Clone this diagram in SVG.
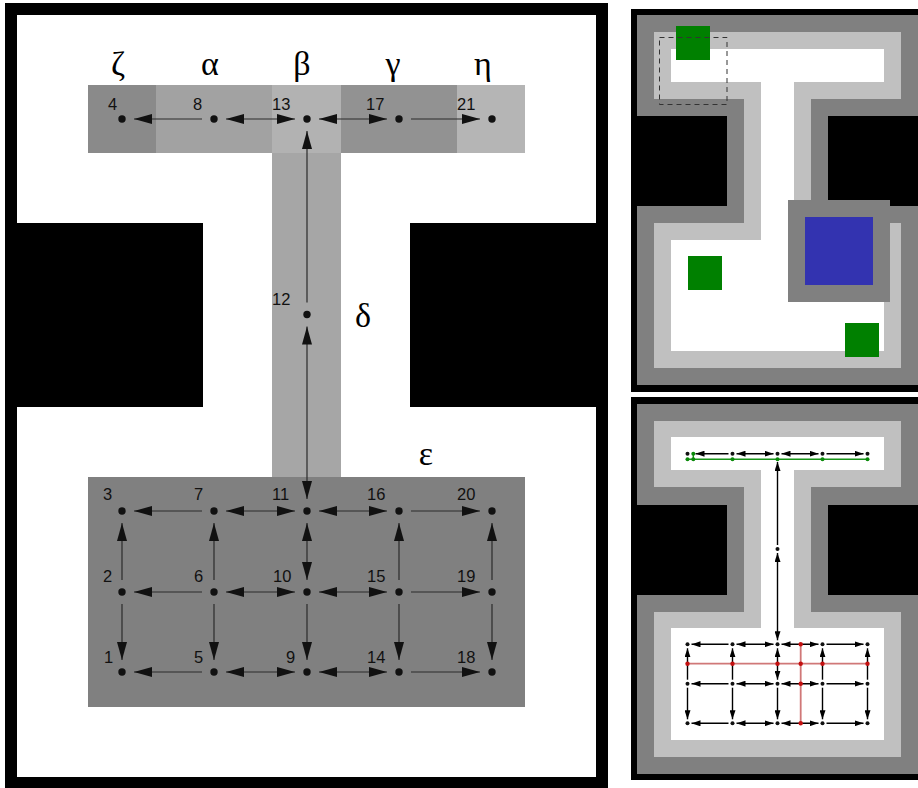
<svg xmlns="http://www.w3.org/2000/svg" width="918" height="788" viewBox="0 0 918 788">
<style>
.num{font-family:"Liberation Sans",Arial,sans-serif;font-size:16.5px;fill:#111}
.gr{font-family:"Liberation Serif","Times New Roman",serif;font-size:34px;fill:#000;text-anchor:middle}
.c line{stroke:#2a2a2a;stroke-width:1.2;fill:none}
.cs line{stroke:#000;stroke-width:1.4;fill:none}
.dot{fill:#111}
.sd{fill:#111}
.gd{fill:#0a8a0a}
.rd{fill:#c41010}
</style>
<defs>
<marker id="arr" markerUnits="userSpaceOnUse" markerWidth="18" markerHeight="10" refX="18" refY="5" orient="auto-start-reverse">
<path d="M0,0 L18,5 L0,10 z" fill="#111"/>
</marker>
<marker id="arrs" markerUnits="userSpaceOnUse" markerWidth="9" markerHeight="6" refX="9" refY="3" orient="auto-start-reverse">
<path d="M0,0 L9,3 L0,6 z" fill="#000"/>
</marker>
</defs>
<rect width="918" height="788" fill="#fff"/>
<!-- LEFT PANEL -->
<g id="left-map">
<rect x="5" y="3" width="603" height="790" fill="#000"/>
<rect x="17" y="15" width="579" height="762" fill="#fff"/>
<rect x="5" y="223" width="198" height="184" fill="#000"/>
<rect x="410" y="223" width="198" height="184" fill="#000"/>
<rect x="88" y="85" width="68" height="68" fill="#8a8a8a"/>
<rect x="156" y="85" width="116" height="68" fill="#a2a2a2"/>
<rect x="272" y="85" width="69" height="68" fill="#b2b2b2"/>
<rect x="341" y="85" width="116" height="68" fill="#929292"/>
<rect x="457" y="85" width="68" height="68" fill="#b5b5b5"/>
<rect x="272" y="153" width="69" height="324" fill="#a6a6a6"/>
<rect x="88" y="477" width="437" height="230" fill="#808080"/>
</g>
<g id="greek">
<text class="gr" x="118" y="75">ζ</text>
<text class="gr" x="210" y="75">α</text>
<text class="gr" x="302" y="75">β</text>
<text class="gr" x="393" y="75">γ</text>
<text class="gr" x="483" y="75">η</text>
<text class="gr" x="363" y="327">δ</text>
<text class="gr" x="426" y="465">ε</text>
</g>
<g id="connectors" class="c">
<line x1="202" y1="119" x2="134" y2="119" marker-end="url(#arr)"/>
<line x1="226" y1="119" x2="295" y2="119" marker-start="url(#arr)" marker-end="url(#arr)"/>
<line x1="319" y1="119" x2="387" y2="119" marker-start="url(#arr)" marker-end="url(#arr)"/>
<line x1="411" y1="119" x2="480" y2="119" marker-end="url(#arr)"/>
<line x1="307" y1="302.5" x2="307" y2="131" marker-end="url(#arr)"/>
<line x1="307" y1="326.5" x2="307" y2="499" marker-start="url(#arr)" marker-end="url(#arr)"/>
<line x1="202" y1="511" x2="134" y2="511" marker-end="url(#arr)"/>
<line x1="226" y1="511" x2="295" y2="511" marker-start="url(#arr)" marker-end="url(#arr)"/>
<line x1="319" y1="511" x2="387" y2="511" marker-start="url(#arr)" marker-end="url(#arr)"/>
<line x1="411" y1="511" x2="480" y2="511" marker-end="url(#arr)"/>
<line x1="202" y1="592" x2="134" y2="592" marker-end="url(#arr)"/>
<line x1="226" y1="592" x2="295" y2="592" marker-start="url(#arr)" marker-end="url(#arr)"/>
<line x1="319" y1="592" x2="387" y2="592" marker-start="url(#arr)" marker-end="url(#arr)"/>
<line x1="411" y1="592" x2="480" y2="592" marker-end="url(#arr)"/>
<line x1="202" y1="672" x2="134" y2="672" marker-end="url(#arr)"/>
<line x1="226" y1="672" x2="295" y2="672" marker-start="url(#arr)" marker-end="url(#arr)"/>
<line x1="319" y1="672" x2="387" y2="672" marker-start="url(#arr)" marker-end="url(#arr)"/>
<line x1="411" y1="672" x2="480" y2="672" marker-end="url(#arr)"/>
<line x1="122" y1="580" x2="122" y2="523" marker-end="url(#arr)"/>
<line x1="122" y1="604" x2="122" y2="660" marker-end="url(#arr)"/>
<line x1="214" y1="580" x2="214" y2="523" marker-end="url(#arr)"/>
<line x1="214" y1="604" x2="214" y2="660" marker-end="url(#arr)"/>
<line x1="307" y1="580" x2="307" y2="523" marker-start="url(#arr)" marker-end="url(#arr)"/>
<line x1="307" y1="604" x2="307" y2="660" marker-end="url(#arr)"/>
<line x1="399" y1="580" x2="399" y2="523" marker-end="url(#arr)"/>
<line x1="399" y1="604" x2="399" y2="660" marker-end="url(#arr)"/>
<line x1="492" y1="580" x2="492" y2="523" marker-end="url(#arr)"/>
<line x1="492" y1="604" x2="492" y2="660" marker-end="url(#arr)"/>
</g>
<g id="n4"><circle class="dot" cx="122" cy="119" r="3.7"/><text class="num" x="108" y="110">4</text></g>
<g id="n8"><circle class="dot" cx="214" cy="119" r="3.7"/><text class="num" x="193" y="110">8</text></g>
<g id="n13"><circle class="dot" cx="307" cy="119" r="3.7"/><text class="num" x="272" y="110">13</text></g>
<g id="n17"><circle class="dot" cx="399" cy="119" r="3.7"/><text class="num" x="366" y="110">17</text></g>
<g id="n21"><circle class="dot" cx="492" cy="119" r="3.7"/><text class="num" x="457" y="110">21</text></g>
<g id="n12"><circle class="dot" cx="307" cy="314.5" r="3.7"/><text class="num" x="272" y="305">12</text></g>
<g id="n3"><circle class="dot" cx="122" cy="511" r="3.7"/><text class="num" x="103" y="500">3</text></g>
<g id="n7"><circle class="dot" cx="214" cy="511" r="3.7"/><text class="num" x="194" y="500">7</text></g>
<g id="n11"><circle class="dot" cx="307" cy="511" r="3.7"/><text class="num" x="272" y="500">11</text></g>
<g id="n16"><circle class="dot" cx="399" cy="511" r="3.7"/><text class="num" x="367" y="500">16</text></g>
<g id="n20"><circle class="dot" cx="492" cy="511" r="3.7"/><text class="num" x="457" y="500">20</text></g>
<g id="n2"><circle class="dot" cx="122" cy="592" r="3.7"/><text class="num" x="103" y="582">2</text></g>
<g id="n6"><circle class="dot" cx="214" cy="592" r="3.7"/><text class="num" x="194" y="582">6</text></g>
<g id="n10"><circle class="dot" cx="307" cy="592" r="3.7"/><text class="num" x="273" y="582">10</text></g>
<g id="n15"><circle class="dot" cx="399" cy="592" r="3.7"/><text class="num" x="367" y="582">15</text></g>
<g id="n19"><circle class="dot" cx="492" cy="592" r="3.7"/><text class="num" x="457" y="582">19</text></g>
<g id="n1"><circle class="dot" cx="122" cy="672" r="3.7"/><text class="num" x="104" y="663">1</text></g>
<g id="n5"><circle class="dot" cx="214" cy="672" r="3.7"/><text class="num" x="194" y="663">5</text></g>
<g id="n9"><circle class="dot" cx="307" cy="672" r="3.7"/><text class="num" x="286" y="663">9</text></g>
<g id="n14"><circle class="dot" cx="399" cy="672" r="3.7"/><text class="num" x="367" y="663">14</text></g>
<g id="n18"><circle class="dot" cx="492" cy="672" r="3.7"/><text class="num" x="457" y="663">18</text></g>
<!-- RIGHT TOP PANEL -->
<g id="right-top">
<rect x="631" y="9" width="300" height="383" fill="#000"/>
<rect x="637" y="15" width="290" height="370" fill="#808080"/>
<rect x="654" y="32" width="247" height="67" fill="#c0c0c0"/>
<rect x="744" y="99" width="67" height="124" fill="#c0c0c0"/>
<rect x="654" y="223" width="247" height="145" fill="#c0c0c0"/>
<rect x="671" y="49" width="213" height="33" fill="#fff"/>
<rect x="761" y="82" width="33" height="158" fill="#fff"/>
<rect x="671" y="240" width="213" height="111" fill="#fff"/>
<rect x="637" y="116" width="90" height="90" fill="#000"/>
<rect x="828" y="116" width="90" height="90" fill="#000"/>
<rect x="788" y="200" width="102" height="102" fill="#808080"/>
<rect x="805" y="217" width="68" height="68" fill="#3333b0"/>
<rect x="676" y="26" width="34" height="34" fill="#008000"/>
<rect x="688" y="256" width="34" height="34" fill="#008000"/>
<rect x="845" y="323" width="34" height="34" fill="#008000"/>
<rect x="659.5" y="37.5" width="67.5" height="67" fill="none" stroke="#333" stroke-width="1" stroke-dasharray="5,4"/>
</g>
<!-- RIGHT BOTTOM PANEL -->
<g id="right-bottom">
<rect x="631" y="397" width="300" height="383" fill="#000"/>
<rect x="637" y="404" width="290" height="370" fill="#808080"/>
<rect x="654" y="421" width="247" height="66" fill="#c0c0c0"/>
<rect x="744" y="487" width="67" height="125" fill="#c0c0c0"/>
<rect x="654" y="612" width="247" height="145" fill="#c0c0c0"/>
<rect x="671" y="437" width="213" height="33" fill="#fff"/>
<rect x="761" y="470" width="33" height="158" fill="#fff"/>
<rect x="671" y="628" width="213" height="112" fill="#fff"/>
<rect x="637" y="505" width="90" height="90" fill="#000"/>
<rect x="828" y="505" width="90" height="90" fill="#000"/>
</g>
<g id="small-connectors" class="cs">
<line x1="728.5" y1="453.7" x2="695.5" y2="453.7" marker-end="url(#arrs)"/>
<line x1="736.5" y1="453.7" x2="773.5" y2="453.7" marker-start="url(#arrs)" marker-end="url(#arrs)"/>
<line x1="781.5" y1="453.7" x2="818.5" y2="453.7" marker-start="url(#arrs)" marker-end="url(#arrs)"/>
<line x1="826.5" y1="453.7" x2="863.5" y2="453.7" marker-end="url(#arrs)"/>
<line x1="777.5" y1="545" x2="777.5" y2="462" marker-end="url(#arrs)"/>
<line x1="777.5" y1="553" x2="777.5" y2="640.3" marker-start="url(#arrs)" marker-end="url(#arrs)"/>
<line x1="728.5" y1="644.3" x2="691.5" y2="644.3" marker-end="url(#arrs)"/>
<line x1="736.5" y1="644.3" x2="773.5" y2="644.3" marker-start="url(#arrs)" marker-end="url(#arrs)"/>
<line x1="781.5" y1="644.3" x2="818.5" y2="644.3" marker-start="url(#arrs)" marker-end="url(#arrs)"/>
<line x1="826.5" y1="644.3" x2="863.5" y2="644.3" marker-end="url(#arrs)"/>
<line x1="728.5" y1="683.7" x2="691.5" y2="683.7" marker-end="url(#arrs)"/>
<line x1="736.5" y1="683.7" x2="773.5" y2="683.7" marker-start="url(#arrs)" marker-end="url(#arrs)"/>
<line x1="781.5" y1="683.7" x2="818.5" y2="683.7" marker-start="url(#arrs)" marker-end="url(#arrs)"/>
<line x1="826.5" y1="683.7" x2="863.5" y2="683.7" marker-end="url(#arrs)"/>
<line x1="728.5" y1="723.3" x2="691.5" y2="723.3" marker-end="url(#arrs)"/>
<line x1="736.5" y1="723.3" x2="773.5" y2="723.3" marker-start="url(#arrs)" marker-end="url(#arrs)"/>
<line x1="781.5" y1="723.3" x2="818.5" y2="723.3" marker-start="url(#arrs)" marker-end="url(#arrs)"/>
<line x1="826.5" y1="723.3" x2="863.5" y2="723.3" marker-end="url(#arrs)"/>
<line x1="687.5" y1="679.7" x2="687.5" y2="648.3" marker-end="url(#arrs)"/>
<line x1="687.5" y1="687.7" x2="687.5" y2="719.3" marker-end="url(#arrs)"/>
<line x1="732.5" y1="679.7" x2="732.5" y2="648.3" marker-end="url(#arrs)"/>
<line x1="732.5" y1="687.7" x2="732.5" y2="719.3" marker-end="url(#arrs)"/>
<line x1="777.5" y1="679.7" x2="777.5" y2="648.3" marker-start="url(#arrs)" marker-end="url(#arrs)"/>
<line x1="777.5" y1="687.7" x2="777.5" y2="719.3" marker-end="url(#arrs)"/>
<line x1="822.5" y1="679.7" x2="822.5" y2="648.3" marker-end="url(#arrs)"/>
<line x1="822.5" y1="687.7" x2="822.5" y2="719.3" marker-end="url(#arrs)"/>
<line x1="867.5" y1="679.7" x2="867.5" y2="648.3" marker-end="url(#arrs)"/>
<line x1="867.5" y1="687.7" x2="867.5" y2="719.3" marker-end="url(#arrs)"/>
</g>
<g id="small-paths">
<path d="M687.5,459.3 H867.5 M693.3,453.7 V459.3" stroke="#1a941a" stroke-width="1.4" fill="none"/>
<path d="M687.5,663.7 H867.5 M800.7,644.3 V723.3" stroke="#d07878" stroke-width="1.8" fill="none"/>
</g>
<g id="small-nodes">
<g id="s-top"><circle class="sd" cx="687.5" cy="453.7" r="2"/><circle class="sd" cx="732.5" cy="453.7" r="2"/><circle class="sd" cx="777.5" cy="453.7" r="2"/><circle class="sd" cx="822.5" cy="453.7" r="2"/><circle class="sd" cx="867.5" cy="453.7" r="2"/></g>
<g id="s-green"><circle class="gd" cx="693.3" cy="453.7" r="2"/><circle class="gd" cx="687.5" cy="459.3" r="2"/><circle class="gd" cx="693.3" cy="459.3" r="2"/><circle class="gd" cx="732.5" cy="459.3" r="2"/><circle class="gd" cx="777.5" cy="459.3" r="2"/><circle class="gd" cx="822.5" cy="459.3" r="2"/><circle class="gd" cx="867.5" cy="459.3" r="2"/></g>
<g id="s-mid"><circle class="sd" cx="777.5" cy="549" r="2"/></g>
<g id="s-grid">
<circle class="sd" cx="687.5" cy="644.3" r="2"/><circle class="sd" cx="732.5" cy="644.3" r="2"/><circle class="sd" cx="777.5" cy="644.3" r="2"/><circle class="sd" cx="822.5" cy="644.3" r="2"/><circle class="sd" cx="867.5" cy="644.3" r="2"/>
<circle class="sd" cx="687.5" cy="683.7" r="2"/><circle class="sd" cx="732.5" cy="683.7" r="2"/><circle class="sd" cx="777.5" cy="683.7" r="2"/><circle class="sd" cx="822.5" cy="683.7" r="2"/><circle class="sd" cx="867.5" cy="683.7" r="2"/>
<circle class="sd" cx="687.5" cy="723.3" r="2"/><circle class="sd" cx="732.5" cy="723.3" r="2"/><circle class="sd" cx="777.5" cy="723.3" r="2"/><circle class="sd" cx="822.5" cy="723.3" r="2"/><circle class="sd" cx="867.5" cy="723.3" r="2"/>
</g>
<g id="s-red">
<circle class="rd" cx="687.5" cy="663.7" r="2.2"/><circle class="rd" cx="732.5" cy="663.7" r="2.2"/><circle class="rd" cx="777.5" cy="663.7" r="2.2"/><circle class="rd" cx="800.7" cy="663.7" r="2.2"/><circle class="rd" cx="822.5" cy="663.7" r="2.2"/><circle class="rd" cx="867.5" cy="663.7" r="2.2"/>
<circle class="rd" cx="800.7" cy="644.3" r="2.2"/><circle class="rd" cx="800.7" cy="683.7" r="2.2"/><circle class="rd" cx="800.7" cy="723.3" r="2.2"/>
</g>
</g>
</svg>
